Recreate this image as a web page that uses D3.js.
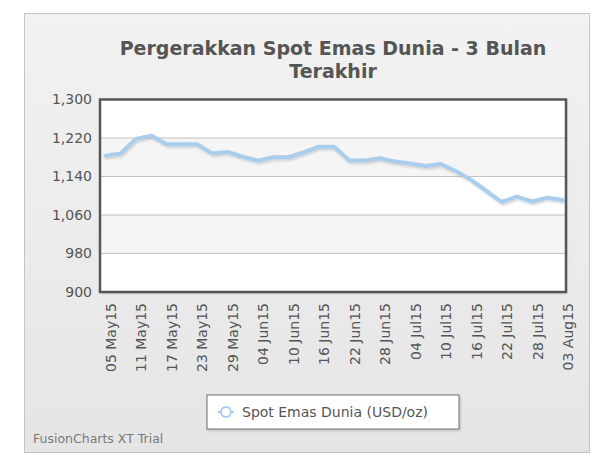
<!DOCTYPE html>
<html>
<head>
<meta charset="utf-8">
<script src="https://cdn.jsdelivr.net/npm/d3@7"></script>
<style>
  body { margin: 0; background: #fff; }
  text { font-family: "DejaVu Sans", Verdana, sans-serif; }
</style>
</head>
<body>
<div id="chart"></div>
<script>
// Data: gold spot price, every 3 days
const dates = [
  "05 May15", "08 May15", "11 May15", "14 May15", "17 May15", "20 May15",
  "23 May15", "26 May15", "29 May15", "01 Jun15", "04 Jun15", "07 Jun15",
  "10 Jun15", "13 Jun15", "16 Jun15", "19 Jun15", "22 Jun15", "25 Jun15",
  "28 Jun15", "01 Jul15", "04 Jul15", "07 Jul15", "10 Jul15", "13 Jul15",
  "16 Jul15", "19 Jul15", "22 Jul15", "25 Jul15", "28 Jul15", "31 Jul15",
  "03 Aug15"
];
const prices = [
  1183, 1188, 1218, 1225, 1207, 1207, 1207, 1188, 1191, 1181, 1173, 1180,
  1180, 1190, 1202, 1202, 1173, 1173, 1178, 1171, 1167, 1162, 1166, 1151,
  1133, 1110, 1087, 1098, 1088, 1096, 1091
];
const yTicks = [900, 980, 1060, 1140, 1220, 1300];
const titleLines = ["Pergerakkan Spot Emas Dunia - 3 Bulan", "Terakhir"];
const seriesName = "Spot Emas Dunia (USD/oz)";

const width = 606, height = 459;
const plot = { left: 100, right: 566, top: 99.5, bottom: 292 };

const svg = d3.select("#chart")
  .append("svg")
  .attr("width", width)
  .attr("height", height);

const defs = svg.append("defs");
const bg = defs.append("linearGradient")
  .attr("id", "bg")
  .attr("x1", 0).attr("y1", 0).attr("x2", 0).attr("y2", 1);
bg.append("stop").attr("offset", "0%").attr("stop-color", "#f2f2f2");
bg.append("stop").attr("offset", "100%").attr("stop-color", "#e5e5e5");

const shadow = defs.append("filter").attr("id", "shadow")
  .attr("x", "-10%").attr("y", "-10%").attr("width", "130%").attr("height", "140%");
shadow.append("feDropShadow")
  .attr("dx", 1).attr("dy", 1.5).attr("stdDeviation", 1)
  .attr("flood-color", "#000").attr("flood-opacity", 0.18);

// panel
svg.append("rect")
  .attr("x", 24.5).attr("y", 13.5)
  .attr("width", 565).attr("height", 439)
  .attr("fill", "url(#bg)")
  .attr("stroke", "#c4c4c4");

// title
svg.append("g")
  .selectAll("text")
  .data(titleLines)
  .enter()
  .append("text")
  .attr("x", 333)
  .attr("y", (d, i) => 55 + i * 23)
  .attr("text-anchor", "middle")
  .attr("font-family", "'DejaVu Sans', sans-serif")
  .attr("font-size", 19)
  .attr("font-weight", "bold")
  .attr("fill", "#555")
  .text(d => d);

const x = d3.scalePoint()
  .domain(dates)
  .range([105.5, 562.5]);

const y = d3.scaleLinear()
  .domain([900, 1300])
  .range([plot.bottom, plot.top]);

// canvas
svg.append("rect")
  .attr("x", plot.left).attr("y", plot.top)
  .attr("width", plot.right - plot.left)
  .attr("height", plot.bottom - plot.top)
  .attr("fill", "#fff")
  .attr("filter", "url(#shadow)");

// alternate bands
const bands = d3.pairs(yTicks).filter((d, i) => i % 2 === 1);
svg.append("g")
  .selectAll("rect")
  .data(bands)
  .enter()
  .append("rect")
  .attr("x", plot.left)
  .attr("width", plot.right - plot.left)
  .attr("y", d => y(d[1]))
  .attr("height", d => y(d[0]) - y(d[1]))
  .attr("fill", "#f5f5f5");

// gridlines
svg.append("g")
  .selectAll("line")
  .data(yTicks.slice(1, -1))
  .enter()
  .append("line")
  .attr("x1", plot.left).attr("x2", plot.right)
  .attr("y1", d => y(d)).attr("y2", d => y(d))
  .attr("stroke", "#c2c2c2")
  .attr("stroke-width", 1);

// y axis labels
const yAxis = svg.append("g")
  .attr("transform", `translate(${plot.left - 8},0)`)
  .call(d3.axisLeft(y).tickValues(yTicks).tickSize(0).tickPadding(0)
    .tickFormat(d3.format(",")));
yAxis.select(".domain").remove();
yAxis.selectAll("text")
  .attr("font-family", "'DejaVu Sans', sans-serif")
  .attr("font-size", 14)
  .attr("fill", "#555");

// x axis labels, every other category
const xAxis = svg.append("g")
  .attr("transform", `translate(0,${plot.bottom + 11})`)
  .call(d3.axisBottom(x).tickValues(dates.filter((d, i) => i % 2 === 0))
    .tickSize(0).tickPadding(0));
xAxis.select(".domain").remove();
xAxis.selectAll("text")
  .attr("font-family", "'DejaVu Sans', sans-serif")
  .attr("font-size", 14)
  .attr("fill", "#555")
  .attr("text-anchor", "end")
  .attr("dy", null)
  .attr("transform", "translate(5,0) rotate(-90)")
  .attr("dominant-baseline", "central")
  .attr("y", 0)
  .attr("x", 0);

// line
const line = d3.line()
  .x((d, i) => x(dates[i]))
  .y(d => y(d));

svg.append("path")
  .datum(prices)
  .attr("d", line)
  .attr("fill", "none")
  .attr("stroke", "#a9cdec")
  .attr("stroke-width", 4)
  .attr("stroke-linejoin", "round")
  .attr("stroke-linecap", "round")
  .attr("filter", "url(#shadow)");

// canvas border
svg.append("rect")
  .attr("x", plot.left).attr("y", plot.top)
  .attr("width", plot.right - plot.left)
  .attr("height", plot.bottom - plot.top)
  .attr("fill", "none")
  .attr("stroke", "#565656")
  .attr("stroke-width", 2.5);

// legend
const legend = svg.append("g").attr("transform", "translate(207,395)");
legend.append("rect")
  .attr("width", 252).attr("height", 34)
  .attr("fill", "#fff")
  .attr("stroke", "#6f6f6f")
  .attr("filter", "url(#shadow)");
legend.append("line")
  .attr("x1", 11).attr("x2", 27).attr("y1", 17).attr("y2", 17)
  .attr("stroke", "#a9cdec").attr("stroke-width", 2);
legend.append("circle")
  .attr("cx", 19).attr("cy", 17).attr("r", 5)
  .attr("fill", "#fff")
  .attr("stroke", "#a9cdec").attr("stroke-width", 2);
legend.append("text")
  .attr("x", 35).attr("y", 22)
  .attr("font-size", 14)
  .attr("fill", "#555")
  .text(seriesName);

// trial mark
svg.append("text")
  .attr("x", 33).attr("y", 443)
  .attr("font-size", 12.5)
  .attr("fill", "#7a7a7a")
  .text("FusionCharts XT Trial");
</script>
</body>
</html>
